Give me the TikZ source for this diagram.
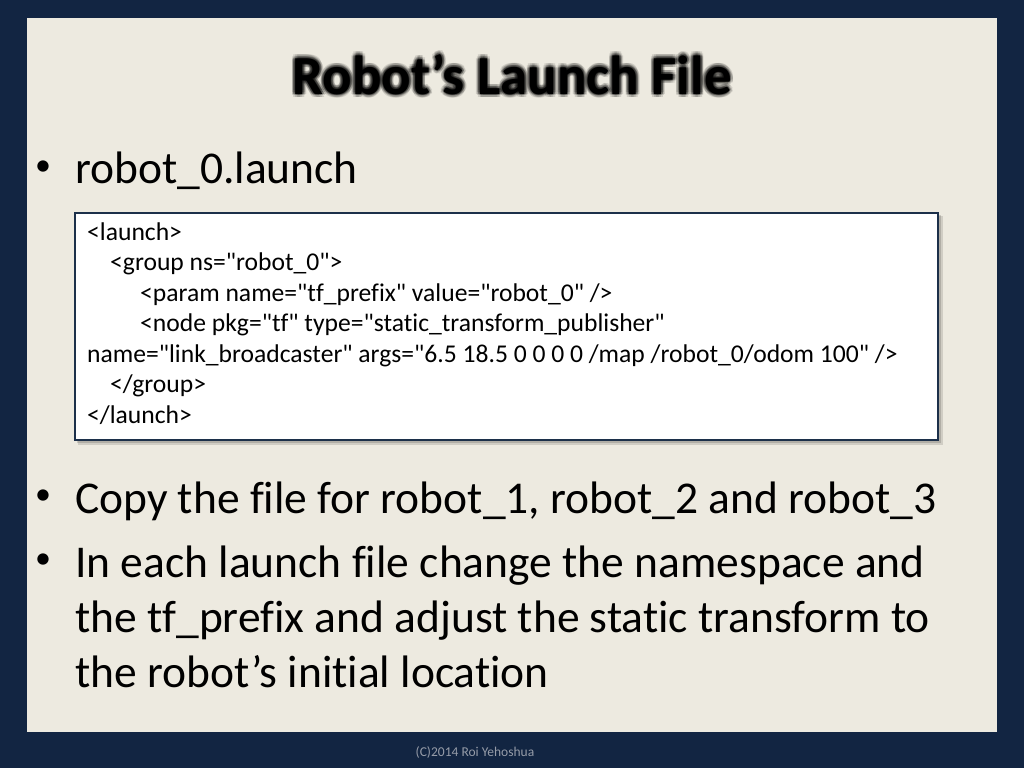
\documentclass[tikz,border=0pt]{standalone}
\usepackage{fontspec}
\setmainfont{Carlito}[Ligatures={NoCommon,TeXOff}]
\usetikzlibrary{positioning}
\definecolor{slidebg}{RGB}{18,37,66}
\definecolor{panelbg}{RGB}{237,234,224}
\definecolor{boxline}{RGB}{28,48,74}
\definecolor{footgray}{RGB}{150,156,168}
\tikzset{%
	slidetitle/.style={inner sep=0pt, anchor=base, font=\fontsize{55}{64}\selectfont\bfseries},
	titleglow/.style={slidetitle, text=black, opacity=0.12},
	bullet/.style={inner sep=0pt, anchor=center, font=\fontsize{32}{36}\selectfont},
	bodytext/.style={inner sep=0pt, anchor=base west, font=\fontsize{45.5}{55}\selectfont},
	codebox/.style={draw=boxline, line width=2.5pt, fill=white, rectangle, inner sep=0pt},
	codeline/.style={inner sep=0pt, anchor=base west, font=\fontsize{25.6}{30}\selectfont},
	footer/.style={inner sep=0pt, anchor=base, text=footgray, font=\fontsize{13.5}{16}\selectfont}
}
\begin{document}
\begin{tikzpicture}[x=1pt, y=-1pt]
	\useasboundingbox (0,0) rectangle (1024,768);
	\fill[slidebg] (0,0) rectangle (1024,768);
	\fill[panelbg] (27,18) rectangle (997,732);

	% title with its soft dark glow
	\foreach \a in {0,30,...,330} {
		\node[titleglow, shift={(\a:3.5)}] (glow-a\a) at (512,94) {Robot’s Launch File};
		\node[titleglow, shift={(\a:1.8)}] (glow-b\a) at (512,94) {Robot’s Launch File};
	}
	\node[slidetitle] (title) at (512,94) {Robot’s Launch File};

	\node[bullet] (b-0) at (43,168) {\textbullet};
	\node[bodytext] (robot-0) at (75,183) {robot\_0.launch};

	% code box
	\fill[black, opacity=0.12] (78,216) rectangle (943,445);
	\fill[black, opacity=0.15] (77,215) rectangle (941,443);
	\node[codebox, minimum width=863, minimum height=227] (code) at (506.5,326.5) {};
	\node[codeline] (code-1) at (87,240)   {<launch>};
	\node[codeline] (code-2) at (110,270.5) {<group ns="robot\_0">};
	\node[codeline] (code-3) at (140,301)  {<param name="tf\_prefix" value="robot\_0" />};
	\node[codeline] (code-4) at (140,331.5) {<node pkg="tf" type="static\_transform\_publisher"};
	\node[codeline] (code-5) at (87,362)   {name="link\_broadcaster" args="6.5 18.5 0 0 0 0 /map /robot\_0/odom 100" />};
	\node[codeline] (code-6) at (110,392.5) {</group>};
	\node[codeline] (code-7) at (87,423)   {</launch>};

	\node[bullet] (b-1) at (43,497.5) {\textbullet};
	\node[bodytext] (copy) at (75,513) {Copy the file for robot\_1, robot\_2 and robot\_3};
	\node[bullet] (b-2) at (43,561.5) {\textbullet};
	\node[bodytext] (each-1) at (75,577) {In each launch file change the namespace and};
	\node[bodytext] (each-2) at (75,632) {the tf\_prefix and adjust the static transform to};
	\node[bodytext] (each-3) at (75,687) {the robot’s initial location};

	\node[footer] (foot) at (475,756) {(C)2014 Roi Yehoshua};
\end{tikzpicture}
\end{document}
